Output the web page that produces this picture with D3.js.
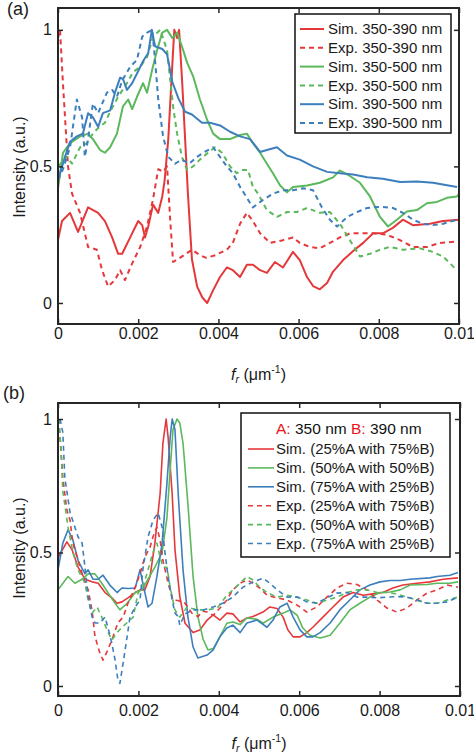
<!DOCTYPE html>
<html><head><meta charset="utf-8">
<script src="https://cdn.jsdelivr.net/npm/d3@7"></script>
<style>
body{margin:0;background:#fff}
svg{display:block}
text{font-family:"Liberation Sans",Arial,Helvetica,sans-serif;fill:#1a1a1a}
</style>
</head><body>
<svg id="c" width="474" height="756"></svg>
<script>
// ---------- DATA ----------
const xTicks = [0, 0.002, 0.004, 0.006, 0.008, 0.01];
const xTickLabels = ["0", "0.002", "0.004", "0.006", "0.008", "0.01"];
const yTicks = [0, 0.5, 1];
const yTickLabels = ["0", "0.5", "1"];

const topLegend = ["Sim. 350-390 nm", "Exp. 350-390 nm", "Sim. 350-500 nm", "Exp. 350-500 nm", "Sim. 390-500 nm", "Exp. 390-500 nm"];
const bottomLegendHeader = ["A:", " 350 nm ", "B:", " 390 nm"];
const bottomLegend = ["Sim. (25%A with 75%B)", "Sim. (50%A with 50%B)", "Sim. (75%A with 25%B)", "Exp. (25%A with 75%B)", "Exp. (50%A with 50%B)", "Exp. (75%A with 25%B)"];

// panel (a)
const simA_350_390 = [[0,0.23],[0.0001,0.30],[0.0003,0.33],[0.0005,0.26],[0.00075,0.35],[0.001,0.33],[0.00117,0.30],[0.00135,0.24],[0.0015,0.18],[0.0016,0.18],[0.0018,0.24],[0.002,0.30],[0.0021,0.285],[0.00217,0.24],[0.00225,0.28],[0.00237,0.36],[0.0025,0.33],[0.0026,0.39],[0.00266,0.45],[0.00275,0.6],[0.00285,0.87],[0.0029,1.0],[0.00297,0.97],[0.00302,1.0],[0.0031,0.8],[0.00317,0.6],[0.00324,0.4],[0.00334,0.16],[0.00347,0.06],[0.0036,0.02],[0.00372,0.0],[0.00387,0.047],[0.00404,0.095],[0.00421,0.13],[0.00436,0.12],[0.00454,0.095],[0.00471,0.14],[0.00486,0.14],[0.00504,0.12],[0.00521,0.11],[0.00541,0.15],[0.00561,0.13],[0.00586,0.187],[0.00603,0.157],[0.00621,0.095],[0.00636,0.062],[0.00653,0.05],[0.00671,0.073],[0.00686,0.115],[0.00711,0.157],[0.00736,0.19],[0.00761,0.22],[0.00786,0.255],[0.0081,0.255],[0.00835,0.275],[0.0086,0.305],[0.00885,0.285],[0.00928,0.29],[0.0096,0.3],[0.01,0.305]];
const expA_350_390 = [[0,0.97],[0.00005,1.0],[0.000125,0.8],[0.00025,0.5],[0.00035,0.4],[0.00055,0.33],[0.00075,0.205],[0.00097,0.195],[0.0011,0.12],[0.00125,0.06],[0.00142,0.084],[0.00155,0.12],[0.00167,0.084],[0.00185,0.145],[0.00205,0.205],[0.00222,0.28],[0.00237,0.38],[0.0025,0.49],[0.00262,0.48],[0.00272,0.5],[0.0028,0.3],[0.00287,0.15],[0.00304,0.165],[0.00334,0.195],[0.00354,0.175],[0.0037,0.165],[0.00392,0.175],[0.00421,0.195],[0.00436,0.22],[0.00454,0.29],[0.00471,0.33],[0.00486,0.3],[0.00504,0.255],[0.00529,0.22],[0.00561,0.23],[0.00586,0.24],[0.00603,0.22],[0.00628,0.205],[0.00653,0.2],[0.00678,0.22],[0.00703,0.24],[0.00728,0.255],[0.00753,0.255],[0.00786,0.255],[0.0082,0.25],[0.00853,0.23],[0.00885,0.205],[0.0092,0.205],[0.00953,0.22],[0.00995,0.225]];
const simAB_350_500 = [[0,0.42],[0.000125,0.55],[0.0003,0.585],[0.00055,0.61],[0.00075,0.62],[0.00087,0.6],[0.00105,0.56],[0.00117,0.55],[0.0013,0.57],[0.00147,0.62],[0.00162,0.72],[0.00175,0.745],[0.00185,0.71],[0.00197,0.755],[0.00212,0.805],[0.00222,0.77],[0.00235,0.855],[0.00247,0.925],[0.0026,0.99],[0.00272,1.0],[0.00285,0.97],[0.00297,0.99],[0.00309,0.94],[0.00322,0.88],[0.00337,0.83],[0.00354,0.745],[0.00372,0.67],[0.00387,0.62],[0.00404,0.6],[0.00429,0.6],[0.00454,0.615],[0.00471,0.62],[0.00486,0.585],[0.00504,0.55],[0.00521,0.51],[0.00536,0.475],[0.00554,0.43],[0.00571,0.405],[0.00586,0.425],[0.00621,0.43],[0.00653,0.44],[0.00686,0.46],[0.00703,0.485],[0.00728,0.465],[0.00753,0.44],[0.00778,0.39],[0.00803,0.315],[0.00823,0.28],[0.00845,0.305],[0.0087,0.335],[0.00895,0.34],[0.0092,0.365],[0.00945,0.37],[0.0097,0.385],[0.00995,0.39],[0.01,0.4]];
const expAB_350_500 = [[0,0.5],[0.00022,0.535],[0.00035,0.51],[0.00055,0.57],[0.00072,0.585],[0.00087,0.62],[0.001,0.64],[0.00117,0.66],[0.0013,0.7],[0.0015,0.755],[0.00172,0.805],[0.00187,0.845],[0.00205,0.865],[0.00222,0.9],[0.00237,0.975],[0.00255,1.0],[0.00272,0.925],[0.0028,0.815],[0.00287,0.72],[0.00297,0.62],[0.00309,0.535],[0.00322,0.487],[0.00337,0.5],[0.00354,0.525],[0.00374,0.55],[0.00392,0.57],[0.00409,0.55],[0.00429,0.5],[0.00446,0.475],[0.00461,0.487],[0.00474,0.487],[0.00486,0.425],[0.00499,0.4],[0.00521,0.34],[0.00546,0.315],[0.00571,0.333],[0.00596,0.333],[0.00621,0.348],[0.00653,0.33],[0.00678,0.333],[0.00703,0.29],[0.00728,0.23],[0.00753,0.17],[0.00778,0.18],[0.00803,0.195],[0.00828,0.205],[0.0086,0.195],[0.00903,0.2],[0.00935,0.187],[0.0096,0.17],[0.00995,0.12]];
const simB_390_500 = [[0,0.45],[0.000175,0.535],[0.0003,0.59],[0.00047,0.61],[0.00062,0.62],[0.00075,0.695],[0.00087,0.68],[0.001,0.645],[0.00112,0.695],[0.0013,0.705],[0.00142,0.77],[0.00155,0.825],[0.00162,0.82],[0.00172,0.78],[0.00185,0.805],[0.00197,0.84],[0.00212,0.885],[0.00225,0.915],[0.00234,1.0],[0.00242,0.94],[0.0026,0.93],[0.00272,0.91],[0.00285,0.81],[0.003,0.75],[0.00317,0.7],[0.00334,0.69],[0.00359,0.66],[0.00379,0.66],[0.00404,0.65],[0.00429,0.627],[0.00454,0.61],[0.00479,0.6],[0.00504,0.553],[0.00521,0.56],[0.00546,0.57],[0.00571,0.54],[0.00603,0.525],[0.00636,0.5],[0.00671,0.48],[0.00703,0.475],[0.00736,0.47],[0.00771,0.46],[0.0081,0.455],[0.00853,0.443],[0.00895,0.445],[0.00935,0.44],[0.00995,0.425]];
const expB_390_500 = [[0,0.45],[0.000125,0.49],[0.0003,0.57],[0.00047,0.745],[0.0006,0.68],[0.00067,0.535],[0.00075,0.6],[0.00087,0.73],[0.001,0.695],[0.00122,0.77],[0.00135,0.78],[0.00147,0.755],[0.0016,0.815],[0.0018,0.865],[0.00197,0.89],[0.0021,0.975],[0.00222,0.99],[0.00235,1.0],[0.00242,0.89],[0.0025,0.745],[0.00262,0.61],[0.00275,0.535],[0.00292,0.51],[0.00309,0.525],[0.00327,0.51],[0.00347,0.535],[0.00362,0.55],[0.00387,0.57],[0.00404,0.535],[0.00421,0.5],[0.00436,0.475],[0.00454,0.425],[0.00471,0.385],[0.00486,0.35],[0.00511,0.377],[0.00536,0.4],[0.00561,0.413],[0.00586,0.413],[0.00611,0.42],[0.00636,0.413],[0.00658,0.35],[0.00678,0.305],[0.00696,0.28],[0.00721,0.315],[0.00746,0.333],[0.00771,0.348],[0.00803,0.352],[0.00835,0.348],[0.0086,0.33],[0.00885,0.305],[0.0091,0.29],[0.00935,0.285],[0.0096,0.29],[0.00995,0.305]];

// panel (b)
const sim25A = [[0,0.48],[0.00022,0.54],[0.00035,0.51],[0.0005,0.445],[0.00067,0.4],[0.00085,0.39],[0.001,0.385],[0.00117,0.35],[0.00134,0.33],[0.00147,0.31],[0.00159,0.315],[0.00174,0.33],[0.00192,0.35],[0.00204,0.36],[0.00216,0.36],[0.00229,0.41],[0.00241,0.535],[0.00254,0.72],[0.00261,0.91],[0.00269,1.0],[0.00274,0.93],[0.00284,0.72],[0.00291,0.51],[0.00303,0.335],[0.00316,0.235],[0.00336,0.2],[0.00353,0.21],[0.00371,0.247],[0.00386,0.266],[0.00403,0.247],[0.0042,0.273],[0.00435,0.27],[0.00453,0.24],[0.0047,0.255],[0.00485,0.26],[0.0051,0.277],[0.00527,0.296],[0.00545,0.29],[0.0056,0.258],[0.00572,0.21],[0.00585,0.184],[0.00602,0.184],[0.00619,0.2],[0.00634,0.22],[0.00659,0.258],[0.00684,0.296],[0.00709,0.333],[0.00734,0.35],[0.00759,0.34],[0.00784,0.345],[0.00808,0.35],[0.00833,0.367],[0.00858,0.378],[0.00893,0.385],[0.00925,0.39],[0.00958,0.4],[0.00995,0.405]];
const sim50A = [[0,0.36],[0.00025,0.41],[0.00042,0.385],[0.0006,0.4],[0.00075,0.42],[0.00092,0.42],[0.00109,0.385],[0.00124,0.35],[0.00142,0.31],[0.00154,0.285],[0.00172,0.31],[0.00192,0.35],[0.00209,0.36],[0.00224,0.4],[0.00241,0.445],[0.00259,0.5],[0.00271,0.63],[0.00279,0.81],[0.00286,0.96],[0.00296,1.0],[0.00303,0.985],[0.00311,0.91],[0.00323,0.685],[0.00336,0.41],[0.00348,0.26],[0.00361,0.175],[0.00373,0.135],[0.00386,0.14],[0.00403,0.185],[0.0042,0.235],[0.00435,0.24],[0.00453,0.23],[0.0047,0.255],[0.00495,0.25],[0.0051,0.235],[0.00535,0.258],[0.0056,0.273],[0.00577,0.285],[0.00595,0.265],[0.00609,0.217],[0.00627,0.19],[0.00652,0.18],[0.00677,0.19],[0.00701,0.235],[0.00726,0.285],[0.00751,0.31],[0.00776,0.333],[0.00801,0.35],[0.00826,0.352],[0.00851,0.36],[0.00876,0.378],[0.00918,0.38],[0.00943,0.385],[0.00975,0.385],[0.00995,0.39]];
const sim75A = [[0,0.435],[0.00012,0.535],[0.00025,0.585],[0.00037,0.547],[0.0005,0.47],[0.00067,0.42],[0.00075,0.435],[0.00087,0.4],[0.001,0.4],[0.00112,0.415],[0.00129,0.378],[0.00147,0.35],[0.00159,0.367],[0.00174,0.365],[0.00192,0.367],[0.00204,0.435],[0.00211,0.385],[0.00224,0.296],[0.00234,0.31],[0.00246,0.41],[0.00259,0.535],[0.00271,0.76],[0.00279,0.93],[0.00284,1.0],[0.00291,0.96],[0.00299,0.72],[0.00311,0.435],[0.00323,0.26],[0.00336,0.146],[0.00348,0.105],[0.00371,0.116],[0.00386,0.135],[0.00403,0.185],[0.0042,0.217],[0.00435,0.228],[0.00453,0.2],[0.0047,0.236],[0.00495,0.247],[0.0052,0.22],[0.00535,0.247],[0.00552,0.296],[0.0057,0.31],[0.00585,0.258],[0.00602,0.21],[0.00619,0.184],[0.00634,0.184],[0.00652,0.2],[0.00677,0.236],[0.00701,0.285],[0.00726,0.322],[0.00751,0.36],[0.00776,0.378],[0.00801,0.39],[0.00826,0.395],[0.00851,0.395],[0.00876,0.4],[0.00925,0.405],[0.00943,0.41],[0.00975,0.415],[0.00995,0.425]];
const exp25A = [[0.00002,1.0],[0.00012,0.78],[0.00022,0.66],[0.0003,0.62],[0.00037,0.535],[0.0005,0.47],[0.00062,0.41],[0.00075,0.36],[0.00085,0.28],[0.00092,0.185],[0.00104,0.124],[0.00112,0.097],[0.00124,0.135],[0.00137,0.185],[0.00149,0.236],[0.00162,0.258],[0.00174,0.31],[0.00192,0.37],[0.00204,0.42],[0.00216,0.483],[0.00229,0.52],[0.00236,0.558],[0.00246,0.595],[0.00254,0.547],[0.00261,0.47],[0.00274,0.385],[0.00286,0.322],[0.00299,0.32],[0.00316,0.31],[0.00333,0.273],[0.00348,0.26],[0.00361,0.28],[0.00371,0.277],[0.00386,0.265],[0.00403,0.292],[0.0042,0.322],[0.00435,0.36],[0.00453,0.385],[0.0047,0.397],[0.00485,0.385],[0.00502,0.367],[0.0052,0.34],[0.00545,0.33],[0.0057,0.322],[0.00595,0.303],[0.00619,0.277],[0.00644,0.296],[0.00669,0.333],[0.00694,0.367],[0.00719,0.385],[0.00744,0.38],[0.00769,0.36],[0.00794,0.322],[0.00818,0.292],[0.00843,0.277],[0.00868,0.292],[0.00893,0.322],[0.00918,0.348],[0.00943,0.36],[0.00968,0.378],[0.00995,0.37]];
const exp50A = [[0.00002,1.0],[0.00007,0.9],[0.00012,0.73],[0.00025,0.595],[0.00037,0.5],[0.0005,0.435],[0.00067,0.385],[0.00075,0.322],[0.00085,0.273],[0.00097,0.296],[0.00109,0.258],[0.00122,0.21],[0.00134,0.172],[0.00147,0.2],[0.00159,0.22],[0.00174,0.24],[0.00187,0.258],[0.00199,0.348],[0.00211,0.37],[0.00224,0.435],[0.00236,0.5],[0.00246,0.535],[0.00254,0.483],[0.00261,0.445],[0.00271,0.445],[0.00279,0.37],[0.00291,0.285],[0.00303,0.258],[0.00316,0.285],[0.00321,0.296],[0.00346,0.285],[0.00371,0.285],[0.00396,0.292],[0.0042,0.34],[0.00435,0.36],[0.00453,0.385],[0.0047,0.41],[0.00485,0.397],[0.00502,0.37],[0.0052,0.35],[0.00545,0.333],[0.0057,0.34],[0.00595,0.333],[0.00619,0.322],[0.00644,0.31],[0.00669,0.322],[0.00694,0.333],[0.00719,0.35],[0.00744,0.36],[0.00769,0.36],[0.00794,0.35],[0.00818,0.35],[0.00843,0.345],[0.00868,0.333],[0.00893,0.322],[0.00918,0.31],[0.00943,0.31],[0.00968,0.322],[0.00995,0.333]];
const exp75A = [[0.00005,1.0],[0.00012,0.95],[0.00017,0.78],[0.0003,0.65],[0.0005,0.558],[0.0006,0.535],[0.00067,0.445],[0.00075,0.333],[0.00085,0.258],[0.00092,0.236],[0.00104,0.236],[0.00117,0.258],[0.00124,0.22],[0.00134,0.16],[0.00142,0.097],[0.00149,0.022],[0.00154,0.01],[0.00162,0.086],[0.00172,0.185],[0.00179,0.258],[0.00192,0.296],[0.00204,0.322],[0.00211,0.435],[0.00224,0.558],[0.00236,0.62],[0.00249,0.648],[0.00259,0.595],[0.00266,0.5],[0.00274,0.41],[0.00284,0.322],[0.00291,0.273],[0.00299,0.26],[0.00303,0.228],[0.00316,0.27],[0.00336,0.285],[0.00361,0.285],[0.00386,0.296],[0.0041,0.31],[0.00435,0.333],[0.0046,0.37],[0.00485,0.39],[0.0051,0.404],[0.00527,0.385],[0.00545,0.36],[0.0057,0.333],[0.00595,0.333],[0.00619,0.315],[0.00644,0.31],[0.00669,0.33],[0.00694,0.348],[0.00719,0.35],[0.00744,0.333],[0.00769,0.333],[0.00794,0.33],[0.00818,0.333],[0.00843,0.335],[0.00868,0.333],[0.00893,0.322],[0.00918,0.31],[0.00943,0.31],[0.00968,0.315],[0.00995,0.333]];

// ---------- STYLE ----------
const RED = "#e5383b", GREEN = "#5cb85c", BLUE = "#3d7fbd";
const AXIS = "#262626";
const DASH = "5,4";

const svg = d3.select("#c");

function drawPanel(cfg) {
  const x = d3.scaleLinear().domain([0, 0.01]).range([cfg.left, cfg.right]);
  const y = d3.scaleLinear().domain(cfg.yDomain).range([cfg.bottom, cfg.top]);
  const g = svg.append("g");
  const clipId = "clip" + cfg.id;
  svg.append("defs").append("clipPath").attr("id", clipId)
    .append("rect").attr("x", cfg.left).attr("y", cfg.top)
    .attr("width", cfg.right - cfg.left).attr("height", cfg.bottom - cfg.top);

  const line = d3.line().x(d => x(d[0])).y(d => y(d[1]));
  const lines = g.append("g").attr("clip-path", `url(#${clipId})`);
  cfg.series.forEach(s => {
    lines.append("path").attr("d", line(s.data)).attr("fill", "none")
      .attr("stroke", s.color).attr("stroke-width", cfg.lw)
      .attr("stroke-dasharray", s.dashed ? DASH : null)
      .attr("stroke-linejoin", "round");
  });

  // axes (ticks inward, on all sides)
  const fmtX = (d, i) => xTickLabels[i];
  const fmtY = (d, i) => yTickLabels[i];
  const axB = g.append("g").attr("transform", `translate(0,${cfg.bottom})`)
    .call(d3.axisBottom(x).tickValues(xTicks).tickFormat(fmtX).tickSizeInner(-5).tickSizeOuter(0).tickPadding(cfg.xPad));
  const axT = g.append("g").attr("transform", `translate(0,${cfg.top})`)
    .call(d3.axisTop(x).tickValues(xTicks).tickFormat("").tickSizeInner(-5).tickSizeOuter(0));
  const axL = g.append("g").attr("transform", `translate(${cfg.left},0)`)
    .call(d3.axisLeft(y).tickValues(yTicks).tickFormat(fmtY).tickSizeInner(-5).tickSizeOuter(0).tickPadding(6));
  const axR = g.append("g").attr("transform", `translate(${cfg.right},0)`)
    .call(d3.axisRight(y).tickValues(yTicks).tickFormat("").tickSizeInner(-5).tickSizeOuter(0));
  [axB, axT, axL, axR].forEach(a => {
    a.select(".domain").remove();
    a.selectAll(".tick line").attr("stroke", AXIS).attr("stroke-width", 1.5);
    a.selectAll("text").attr("font-family", '"Liberation Sans",Arial,sans-serif').attr("font-size", 16).attr("fill", AXIS);
  });
  g.append("rect").attr("x", cfg.left).attr("y", cfg.top)
    .attr("width", cfg.right - cfg.left).attr("height", cfg.bottom - cfg.top)
    .attr("fill", "none").attr("stroke", AXIS).attr("stroke-width", 2);

  // axis titles
  const xt = g.append("text").attr("x", (cfg.left + cfg.right) / 2).attr("y", cfg.xTitleY)
    .attr("text-anchor", "middle").attr("font-size", 16).attr("fill", AXIS);
  xt.append("tspan").attr("font-style", "italic").text("f");
  xt.append("tspan").attr("font-style", "italic").attr("font-size", 10.5).attr("dy", 3).text("r");
  xt.append("tspan").attr("dy", -3).text(" (μm");
  xt.append("tspan").attr("font-size", 10.5).attr("dy", -7).text("-1");
  xt.append("tspan").attr("dy", 7).text(")");

  g.append("text").attr("transform", `translate(${cfg.yTitleX},${cfg.yTitleY}) rotate(-90)`)
    .attr("text-anchor", "middle").attr("dy", "0.35em").attr("font-size", 16).attr("fill", AXIS)
    .text("Intensity (a.u.)");

  g.append("text").attr("x", cfg.tagX).attr("y", cfg.tagY)
    .attr("font-family", '"Liberation Serif","Times New Roman",serif')
    .attr("font-size", 18).attr("fill", "#111").text(cfg.tag);

  // legend
  const L = cfg.legend;
  const lg = g.append("g");
  lg.append("rect").attr("x", L.x).attr("y", L.y).attr("width", L.w).attr("height", L.h)
    .attr("fill", "#fff").attr("stroke", "#111").attr("stroke-width", 1.5);
  if (L.header) {
    const ht = lg.append("text").attr("x", L.textX).attr("y", L.headerY).attr("dy", "0.35em")
      .attr("font-size", 15.5).attr("fill", "#111");
    L.header.forEach((t, i) => ht.append("tspan").attr("fill", i % 2 === 0 ? "#e8141b" : "#111").text(t));
  }
  L.items.forEach((label, i) => {
    const s = cfg.series[L.order[i]];
    const yy = L.firstY + i * L.step;
    lg.append("line").attr("x1", L.lineX1).attr("x2", L.lineX2).attr("y1", yy).attr("y2", yy)
      .attr("stroke", s.color).attr("stroke-width", cfg.lw)
      .attr("stroke-dasharray", s.dashed ? DASH : null);
    lg.append("text").attr("x", L.textX).attr("y", yy).attr("dy", "0.35em")
      .attr("font-size", 15).attr("fill", "#111").text(label);
  });
}

drawPanel({
  id: "a", tag: "(a)", tagX: 7, tagY: 15,
  left: 58, right: 459, top: 8, bottom: 324, yDomain: [-0.077, 1.08],
  xPad: 4, xTitleY: 380, yTitleX: 19, yTitleY: 167, lw: 2,
  series: [
    {data: simA_350_390, color: RED, dashed: false},
    {data: expA_350_390, color: RED, dashed: true},
    {data: simAB_350_500, color: GREEN, dashed: false},
    {data: expAB_350_500, color: GREEN, dashed: true},
    {data: simB_390_500, color: BLUE, dashed: false},
    {data: expB_390_500, color: BLUE, dashed: true}
  ],
  legend: {x: 295, y: 14, w: 156, h: 119, firstY: 29, step: 18.8, lineX1: 300, lineX2: 324, textX: 328,
    items: topLegend, order: [0, 1, 2, 3, 4, 5]}
});

drawPanel({
  id: "b", tag: "(b)", tagX: 3, tagY: 399,
  left: 58, right: 460, top: 403, bottom: 696, yDomain: [-0.0375, 1.06],
  xPad: 9, xTitleY: 749, yTitleX: 19, yTitleY: 548, lw: 1.6,
  series: [
    {data: sim25A, color: RED, dashed: false},
    {data: sim50A, color: GREEN, dashed: false},
    {data: sim75A, color: BLUE, dashed: false},
    {data: exp25A, color: RED, dashed: true},
    {data: exp50A, color: GREEN, dashed: true},
    {data: exp75A, color: BLUE, dashed: true}
  ],
  legend: {x: 241, y: 413, w: 209, h: 144, header: bottomLegendHeader, headerY: 429, firstY: 449, step: 18.9,
    lineX1: 248, lineX2: 274, textX: 276, items: bottomLegend, order: [0, 1, 2, 3, 4, 5]}
});
</script>
</body></html>
